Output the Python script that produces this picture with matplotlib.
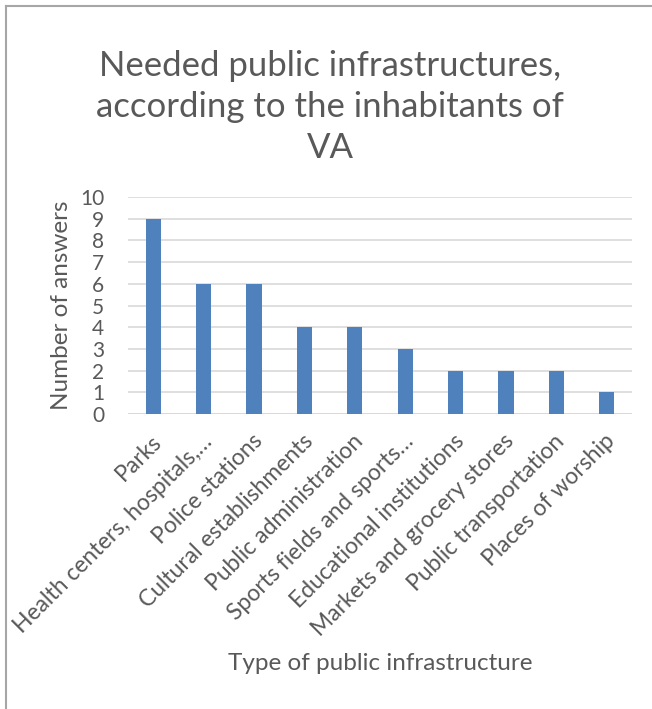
import matplotlib
matplotlib.use("Agg")
import matplotlib.pyplot as plt
from matplotlib.lines import Line2D
from matplotlib.transforms import ScaledTranslation

categories = [
    "Parks",
    "Health centers, hospitals,…",
    "Police stations",
    "Cultural establishments",
    "Public administration",
    "Sports fields and sports…",
    "Educational institutions",
    "Markets and grocery stores",
    "Public transportation",
    "Places of worship",
]
answers = [9, 6, 6, 4, 4, 3, 2, 2, 2, 1]
y_ticks = list(range(0, 11))

plt.rcParams['font.family'] = ['Lato', 'DejaVu Sans']
text_color = "#595959"
bar_color = "#4F81BD"
grid_color = "#D9D9D9"

fig = plt.figure(figsize=(6.52, 7.09), dpi=100)
W, H = 652, 709
ax = fig.add_axes([128 / W, 1 - 414 / H, 504 / W, 217 / H])

x = list(range(len(categories)))
ax.bar(x, answers, width=0.3, color=bar_color, zorder=3)
ax.set_xlim(-0.5, len(categories) - 0.5)
ax.set_ylim(0, 10)
ax.set_yticks(y_ticks)
ax.grid(axis='y', color=grid_color, linewidth=1.2, zorder=0)
for s in ax.spines.values():
    s.set_visible(False)
ax.axhline(0, color=grid_color, linewidth=1.4, zorder=2)
ax.tick_params(axis='both', length=0, colors=text_color)
ax.tick_params(axis='y', pad=17, labelsize=15)
ax.set_yticklabels([str(t) for t in y_ticks], color=text_color)

# category labels, rotated 45° and ending just under each bar
ax.set_xticks(x)
ax.set_xticklabels([])
offset = ScaledTranslation(5 / 100, -24 / 100, fig.dpi_scale_trans)
for xi, name in zip(x, categories):
    ax.text(xi, 0, name, rotation=45, ha='right', va='center',
            rotation_mode='anchor', fontsize=16.5, color=text_color,
            transform=ax.get_xaxis_transform() + offset)

ax.set_ylabel("Number of answers", fontsize=17.5, color=text_color, labelpad=6)
fig.text(0.5 * (128 + 632) / W, 1 - 663 / H, "Type of public infrastructure",
         ha='center', va='center', fontsize=17.5, color=text_color)

fig.text(0.5 * (8 + 652) / W, 1 - 107 / H,
         "Needed public infrastructures,\naccording to the inhabitants of\nVA",
         ha='center', va='center', fontsize=25, color=text_color, linespacing=1.35)

# chart frame (left and top edges)
fig.add_artist(Line2D([6 / W, 6 / W], [0, 1 - 6 / H], transform=fig.transFigure,
                      color="#A6A6A6", linewidth=1.5))
fig.add_artist(Line2D([6 / W, 1], [1 - 6 / H, 1 - 6 / H], transform=fig.transFigure,
                      color="#A6A6A6", linewidth=1.5))

fig.savefig("out.png", dpi=100, facecolor="white")
